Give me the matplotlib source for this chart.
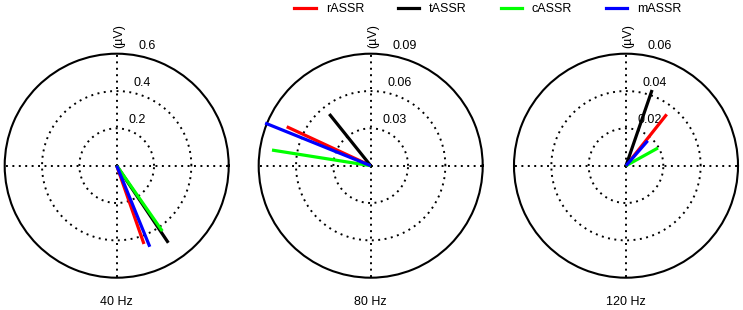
import numpy as np
import matplotlib
matplotlib.use("Agg")
from matplotlib import pyplot as plt
from matplotlib.transforms import offset_copy

plt.rcParams["font.family"] = ["Liberation Sans", "DejaVu Sans"]
plt.rcParams["font.size"] = 9

series = ["rASSR", "tASSR", "cASSR", "mASSR"]
colors = ["#ff0000", "#000000", "#00ff00", "#0000ff"]

freqs = ["40 Hz", "80 Hz", "120 Hz"]
ring_ticks = [[0.2, 0.4, 0.6], [0.03, 0.06, 0.09], [0.02, 0.04, 0.06]]
tick_labels = [["0.2", "0.4", "0.6"], ["0.03", "0.06", "0.09"], ["0.02", "0.04", "0.06"]]

# amplitude (uV) and phase (deg) per series: r, t, c, m
amp40 = [0.444, 0.497, 0.427, 0.469]
phase40 = [-70.8, -56.2, -55.1, -67.8]
amp80 = [0.0744, 0.0532, 0.0803, 0.0915]
phase80 = [155.1, 128.7, 171.0, 158.0]
amp120 = [0.0351, 0.0429, 0.0196, 0.0177]
phase120 = [51.6, 71.0, 29.0, 49.0]

amps = [amp40, amp80, amp120]
phases = [phase40, phase80, phase120]

W, H = 743, 310
fig = plt.figure(figsize=(W / 100, H / 100), dpi=100)

centers_x = [116.7, 370.7, 626.0]
center_y = 165.7
rad = 112
dots = (0, (1, 2.3))

for k in range(3):
    cx = centers_x[k]
    ax = fig.add_axes([(cx - rad) / W, (H - center_y - rad) / H, 2 * rad / W, 2 * rad / H],
                      projection="polar")
    rmax = ring_ticks[k][-1]
    ax.set_ylim(0, rmax)
    ax.set_xticks([])
    ax.set_yticks([])
    ax.grid(False)
    ax.spines["polar"].set_linewidth(1.5)

    # dotted rings and cross, under the data
    th = np.linspace(0, 2 * np.pi, 300)
    for v in ring_ticks[k][:-1]:
        ax.plot(th, np.full_like(th, v), color="k", lw=1.4, ls=dots, zorder=1)
    for a in [0, np.pi / 2, np.pi, 3 * np.pi / 2]:
        ax.plot([a, a], [0, rmax], color="k", lw=1.4, ls=dots, zorder=1)

    trans = offset_copy(ax.transData, fig=fig, x=4.5, y=2, units="points")
    for v, lab in zip(ring_ticks[k], tick_labels[k]):
        ax.text(np.deg2rad(82), v, lab, transform=trans, ha="left", va="bottom",
                zorder=2)

    for amp, ph, c in zip(amps[k], phases[k], colors):
        t = np.deg2rad(ph)
        ax.plot([t, t], [0, amp], color=c, lw=2.3, clip_on=False,
                solid_capstyle="butt", zorder=5)

    ax.text(0.51, 1.025, "(\u00b5V)", rotation=90, ha="center", va="bottom",
            transform=ax.transAxes)
    ax.text(0.5, -0.107, freqs[k], ha="center", va="center", transform=ax.transAxes)

handles = [plt.Line2D([], [], color=c, lw=2.3) for c in colors]
fig.legend(handles, series, loc="center", bbox_to_anchor=(488 / W, 1 - 9.5 / H),
           ncol=4, frameon=False, handlelength=1.7, handletextpad=0.8,
           columnspacing=2.7, borderpad=0, borderaxespad=0)

fig.savefig("out.png", dpi=100)
